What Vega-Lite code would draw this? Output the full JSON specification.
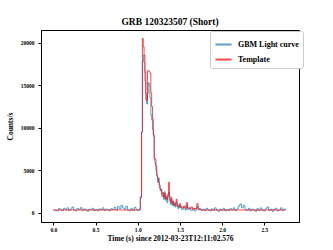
{
  "$schema": "https://vega.github.io/schema/vega-lite/v6.json",
  "autosize": "none",
  "width": 258,
  "height": 192,
  "padding": {"left": 41, "top": 30, "right": 34, "bottom": 28},
  "background": "white",
  "config": {
    "font": "Liberation Serif",
    "view": {"stroke": "black", "strokeWidth": 1},
    "axis": {"grid": false, "domainColor": "black", "tickColor": "black", "labelColor": "black", "titleColor": "black", "labelFont": "Liberation Serif", "titleFont": "Liberation Serif", "labelFontWeight": "bold", "titleFontWeight": "bold", "tickSize": 3, "labelFontSize": 5.5, "titleFontSize": 7.5}
  },
  "title": {"text": "GRB 120323507 (Short)", "font": "Liberation Serif", "fontSize": 9.5, "fontWeight": "bold", "color": "black", "offset": 4},
  "datasets": {
    "gbm": [
      {"t":0.00,"c":350},{"t":0.02,"c":300},{"t":0.04,"c":250},{"t":0.06,"c":500},{"t":0.08,"c":420},{"t":0.10,"c":280},{"t":0.12,"c":550},{"t":0.14,"c":380},{"t":0.16,"c":600},{"t":0.18,"c":300},{"t":0.20,"c":450},{"t":0.22,"c":700},{"t":0.24,"c":350},{"t":0.26,"c":250},{"t":0.28,"c":520},{"t":0.30,"c":400},{"t":0.32,"c":620},{"t":0.34,"c":300},{"t":0.36,"c":480},{"t":0.38,"c":350},{"t":0.40,"c":200},{"t":0.42,"c":450},{"t":0.44,"c":380},{"t":0.46,"c":550},{"t":0.48,"c":300},{"t":0.50,"c":420},{"t":0.52,"c":250},{"t":0.54,"c":480},{"t":0.56,"c":350},{"t":0.58,"c":600},{"t":0.60,"c":300},{"t":0.62,"c":450},{"t":0.64,"c":380},{"t":0.66,"c":250},{"t":0.68,"c":500},{"t":0.70,"c":400},{"t":0.72,"c":650},{"t":0.74,"c":350},{"t":0.76,"c":750},{"t":0.78,"c":500},{"t":0.80,"c":900},{"t":0.82,"c":600},{"t":0.84,"c":450},{"t":0.86,"c":800},{"t":0.88,"c":350},{"t":0.90,"c":250},{"t":0.92,"c":550},{"t":0.94,"c":300},{"t":0.96,"c":650},{"t":0.98,"c":400},{"t":1.00,"c":300},{"t":1.02,"c":500},
      {"t":1.030,"c":1800},{"t":1.045,"c":9500},{"t":1.055,"c":17800},{"t":1.065,"c":18500},{"t":1.075,"c":17600},{"t":1.085,"c":15500},{"t":1.095,"c":13300},{"t":1.105,"c":12800},{"t":1.115,"c":14000},{"t":1.125,"c":15300},{"t":1.135,"c":15000},{"t":1.145,"c":13500},{"t":1.155,"c":11500},{"t":1.165,"c":10900},{"t":1.175,"c":9800},{"t":1.185,"c":9000},{"t":1.195,"c":6200},{"t":1.205,"c":5800},{"t":1.215,"c":5000},{"t":1.225,"c":4300},{"t":1.235,"c":3600},{"t":1.245,"c":4100},{"t":1.255,"c":3000},{"t":1.265,"c":2600},{"t":1.275,"c":2800},{"t":1.285,"c":1900},{"t":1.295,"c":2100},{"t":1.305,"c":1600},{"t":1.315,"c":2500},{"t":1.325,"c":1500},{"t":1.335,"c":1800},{"t":1.345,"c":1200},{"t":1.355,"c":1900},{"t":1.365,"c":2400},{"t":1.375,"c":1500},{"t":1.385,"c":1000},{"t":1.395,"c":1600},{"t":1.405,"c":900},{"t":1.415,"c":1300},{"t":1.425,"c":800},{"t":1.435,"c":1100},{"t":1.445,"c":700},{"t":1.455,"c":1300},{"t":1.465,"c":800},{"t":1.475,"c":500},{"t":1.485,"c":900},{"t":1.495,"c":600},{"t":1.505,"c":800},{"t":1.52,"c":400},{"t":1.54,"c":700},{"t":1.56,"c":350},{"t":1.575,"c":900},{"t":1.59,"c":400},{"t":1.61,"c":600},{"t":1.63,"c":300},{"t":1.65,"c":500},{"t":1.67,"c":250},{"t":1.69,"c":550},{"t":1.70,"c":800},{"t":1.715,"c":350},{"t":1.73,"c":500},{"t":1.75,"c":300},
      {"t":1.77,"c":450},{"t":1.79,"c":300},{"t":1.81,"c":550},{"t":1.83,"c":350},{"t":1.85,"c":250},{"t":1.87,"c":480},{"t":1.89,"c":300},{"t":1.91,"c":600},{"t":1.93,"c":350},{"t":1.95,"c":200},{"t":1.97,"c":450},{"t":1.99,"c":300},{"t":2.01,"c":550},{"t":2.03,"c":250},{"t":2.05,"c":400},{"t":2.07,"c":300},{"t":2.09,"c":500},{"t":2.11,"c":350},{"t":2.13,"c":600},{"t":2.15,"c":300},{"t":2.17,"c":450},{"t":2.19,"c":800},{"t":2.21,"c":1050},{"t":2.23,"c":600},{"t":2.25,"c":900},{"t":2.27,"c":400},{"t":2.29,"c":300},{"t":2.31,"c":550},{"t":2.33,"c":250},{"t":2.35,"c":450},{"t":2.37,"c":350},{"t":2.39,"c":200},{"t":2.41,"c":500},{"t":2.43,"c":300},{"t":2.45,"c":600},{"t":2.47,"c":350},{"t":2.49,"c":250},{"t":2.51,"c":500},{"t":2.53,"c":700},{"t":2.55,"c":300},{"t":2.57,"c":450},{"t":2.59,"c":200},{"t":2.61,"c":400},{"t":2.63,"c":550},{"t":2.65,"c":250},{"t":2.67,"c":350},{"t":2.69,"c":600},{"t":2.71,"c":300},{"t":2.73,"c":450},{"t":2.75,"c":350}
    ],
    "tpl": [
      {"t":0.00,"c":350},{"t":1.02,"c":380},{"t":1.030,"c":1900},{"t":1.045,"c":9500},{"t":1.055,"c":20500},{"t":1.065,"c":19500},{"t":1.075,"c":18500},{"t":1.085,"c":16500},{"t":1.095,"c":14000},{"t":1.105,"c":13200},{"t":1.115,"c":16700},{"t":1.125,"c":16700},{"t":1.135,"c":16600},{"t":1.145,"c":16400},{"t":1.155,"c":14100},{"t":1.165,"c":12500},{"t":1.175,"c":11000},{"t":1.185,"c":9200},{"t":1.195,"c":6500},{"t":1.205,"c":6300},{"t":1.215,"c":5500},{"t":1.225,"c":4500},{"t":1.235,"c":4000},{"t":1.245,"c":3600},{"t":1.255,"c":3300},{"t":1.265,"c":2800},{"t":1.275,"c":2600},{"t":1.285,"c":2200},{"t":1.295,"c":2400},{"t":1.305,"c":1900},{"t":1.315,"c":2300},{"t":1.325,"c":1700},{"t":1.335,"c":2000},{"t":1.345,"c":1600},{"t":1.355,"c":2200},{"t":1.365,"c":3600},{"t":1.375,"c":2000},{"t":1.385,"c":1300},{"t":1.395,"c":1800},{"t":1.405,"c":1100},{"t":1.415,"c":1400},{"t":1.425,"c":1000},{"t":1.435,"c":900},{"t":1.445,"c":1200},{"t":1.455,"c":1600},{"t":1.465,"c":1000},{"t":1.475,"c":700},{"t":1.485,"c":800},{"t":1.495,"c":1100},{"t":1.505,"c":700},{"t":1.52,"c":600},{"t":1.54,"c":800},{"t":1.56,"c":550},{"t":1.575,"c":1200},{"t":1.59,"c":600},{"t":1.61,"c":500},{"t":1.63,"c":700},{"t":1.65,"c":450},{"t":1.67,"c":550},{"t":1.69,"c":450},{"t":1.70,"c":1100},{"t":1.715,"c":500},{"t":1.73,"c":400},{"t":1.75,"c":350},{"t":2.75,"c":350}
    ]
  },
  "layer": [
    {
      "data": {"name": "gbm"},
      "mark": {"type": "line", "interpolate": "step-after", "strokeWidth": 1, "opacity": 0.7},
      "encoding": {
        "x": {"field": "t", "type": "quantitative", "scale": {"domain": [-0.146, 2.91], "nice": false, "zero": false}, "axis": {"values": [0, 0.5, 1, 1.5, 2, 2.5], "format": ".1f", "title": "Time (s) since 2012-03-23T12:11:02.576", "labelPadding": 2, "titlePadding": 2}},
        "y": {"field": "c", "type": "quantitative", "scale": {"domain": [-1060, 21480], "nice": false, "zero": false}, "axis": {"values": [0, 5000, 10000, 15000, 20000], "format": "d", "title": "Counts/s", "labelPadding": 4, "titlePadding": 6}},
        "color": {"datum": "GBM Light curve", "type": "nominal", "scale": {"domain": ["GBM Light curve", "Template"], "range": ["#1f77b4", "#ff0000"]},
          "legend": {"title": null, "orient": "none", "legendX": 169, "legendY": 1, "symbolType": "stroke", "symbolStrokeWidth": 2, "symbolSize": 260, "labelFont": "Liberation Serif", "labelFontWeight": "bold", "labelFontSize": 8, "labelColor": "black", "labelOffset": 5, "strokeColor": "#cccccc", "fillColor": "white", "padding": 4, "cornerRadius": 2, "rowPadding": 1, "symbolOpacity": 0.8}}
      }
    },
    {
      "data": {"name": "tpl"},
      "mark": {"type": "line", "interpolate": "step-after", "strokeWidth": 1, "opacity": 0.7},
      "encoding": {
        "x": {"field": "t", "type": "quantitative"},
        "y": {"field": "c", "type": "quantitative"},
        "color": {"datum": "Template", "type": "nominal"}
      }
    }
  ]
}
